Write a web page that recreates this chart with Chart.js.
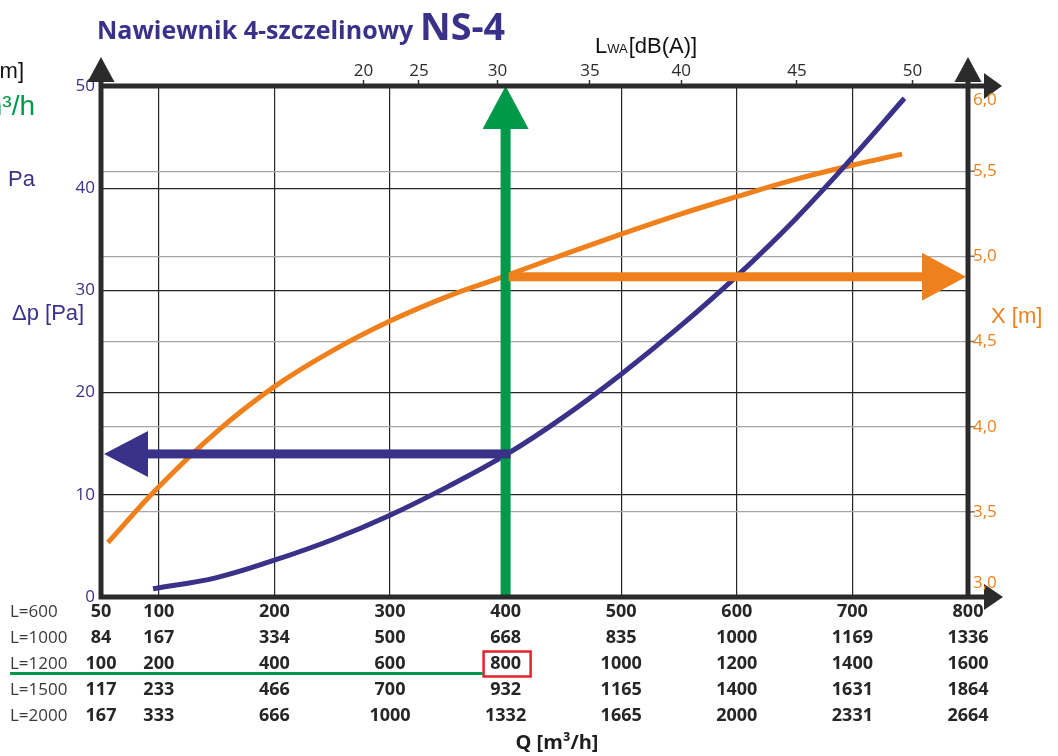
<!DOCTYPE html>
<html><head><meta charset="utf-8">
<script src="https://cdn.jsdelivr.net/npm/chart.js@4.4.0/dist/chart.umd.min.js"></script>
<style>html,body{margin:0;padding:0;background:#fff;}canvas{display:block;}</style>
</head><body>
<canvas id="c" width="1058" height="756"></canvas>
<script>
// ---- data ----
const qTicks = [50, 100, 200, 300, 400, 500, 600, 700, 800];
const rowLabels = ['L=600', 'L=1000', 'L=1200', 'L=1500', 'L=2000'];
const rowL600 = [50, 100, 200, 300, 400, 500, 600, 700, 800];
const rowL1000 = [84, 167, 334, 500, 668, 835, 1000, 1169, 1336];
const rowL1200 = [100, 200, 400, 600, 800, 1000, 1200, 1400, 1600];
const rowL1500 = [117, 233, 466, 700, 932, 1165, 1400, 1631, 1864];
const rowL2000 = [167, 333, 666, 1000, 1332, 1665, 2000, 2331, 2664];
const tableRows = [rowL600, rowL1000, rowL1200, rowL1500, rowL2000];
const dpTicks = [0, 10, 20, 30, 40, 50];
const throwTicks = [3.0, 3.5, 4.0, 4.5, 5.0, 5.5, 6.0];
const lwaLabels = [20, 25, 30, 35, 40, 45, 50];
const lwaQ = [277, 325, 393, 473, 552, 652, 752];
const dpQ = [95, 150, 200, 250, 300, 350, 400, 450, 500, 550, 600, 650, 700, 745];
const dpValues = [0.8, 1.9, 3.6, 5.6, 8.0, 10.8, 13.9, 17.6, 21.8, 26.4, 31.4, 36.9, 43.0, 48.8];
const throwQ = [56, 100, 150, 200, 250, 300, 350, 400, 450, 500, 550, 600, 650, 700, 743];
const throwValues = [3.32, 3.647, 3.97, 4.235, 4.445, 4.62, 4.765, 4.885, 5.01, 5.13, 5.245, 5.35, 5.45, 5.535, 5.60];
const exampleQ = 400, exampleDp = 14, exampleX = 4.88;
const highlightRow = 2, highlightCol = 4;

// ---- style ----
const NAVY = '#3a3189', ORANGE = '#ef801c', GREEN = '#00994a', DARK = '#2b2b2b';
const FONT = '"Open Sans", "DejaVu Sans", sans-serif';
const ARIAL = '"Liberation Sans", Arial, sans-serif';
const TABLE_FS = 18, TABLE_LH = 26 / 18, TABLE_PAD = 2;

function tri(ctx, x1, y1, x2, y2, x3, y3) {
  ctx.beginPath(); ctx.moveTo(x1, y1); ctx.lineTo(x2, y2); ctx.lineTo(x3, y3); ctx.closePath(); ctx.fill();
}

const deco = {
  id: 'deco',
  afterDatasetsDraw(chart) {
    const { ctx, chartArea: a, scales } = chart;
    const x = scales.x, y = scales.y, yx = scales.yX;
    const gx = x.getPixelForValue(exampleQ);
    ctx.save();
    // green vertical arrow
    const top = y.getPixelForValue(dpTicks[dpTicks.length - 1]), bot = y.getPixelForValue(dpTicks[0]);
    ctx.fillStyle = GREEN;
    ctx.fillRect(gx - 5, top + 40, 10, bot - top - 40);
    tri(ctx, gx, top, gx - 23, top + 43, gx + 23, top + 43);
    // blue arrow to the left
    const by = y.getPixelForValue(exampleDp);
    const lx = a.left + 3;
    ctx.fillStyle = NAVY;
    ctx.fillRect(lx + 40, by - 4.5, gx + 5 - (lx + 40), 9);
    tri(ctx, lx, by, lx + 44, by - 23, lx + 44, by + 23);
    // orange arrow to the right
    const oy = yx.getPixelForValue(exampleX);
    const rx = a.right - 2;
    ctx.fillStyle = ORANGE;
    ctx.fillRect(gx + 3, oy - 4.5, rx - 42 - (gx + 3), 9);
    tri(ctx, rx, oy, rx - 44, oy - 24, rx - 44, oy + 24);
    ctx.restore();
  },
  afterDraw(chart) {
    const { ctx, chartArea: a, scales } = chart;
    const x = scales.x, yx = scales.yX;
    ctx.save();
    // right-axis small tick marks
    ctx.strokeStyle = '#777'; ctx.lineWidth = 1.5;
    throwTicks.slice(1, -1).forEach(v => {
      const py = yx.getPixelForValue(v);
      ctx.beginPath(); ctx.moveTo(a.right + 2, py); ctx.lineTo(a.right + 7, py); ctx.stroke();
    });
    // frame
    ctx.strokeStyle = DARK; ctx.lineWidth = 5; ctx.lineCap = 'butt';
    ctx.beginPath();
    ctx.moveTo(a.left, a.top - 6); ctx.lineTo(a.left, a.bottom + 2.5);
    ctx.moveTo(a.right, a.top - 6); ctx.lineTo(a.right, a.bottom + 2.5);
    ctx.moveTo(a.left - 2.5, a.top); ctx.lineTo(a.right + 17, a.top);
    ctx.moveTo(a.left - 2.5, a.bottom); ctx.lineTo(a.right + 17, a.bottom);
    ctx.stroke();
    ctx.fillStyle = DARK;
    tri(ctx, a.left, a.top - 29, a.left - 13.5, a.top - 4, a.left + 13.5, a.top - 4);
    tri(ctx, a.right, a.top - 29, a.right - 13.5, a.top - 4, a.right + 13.5, a.top - 4);
    tri(ctx, a.right + 34, a.top, a.right + 16, a.top - 13, a.right + 16, a.top + 13);
    tri(ctx, a.right + 35, a.bottom, a.right + 16, a.bottom - 13, a.right + 16, a.bottom + 13);

    // right axis labels
    ctx.font = '17px ' + FONT; ctx.fillStyle = ORANGE; ctx.textAlign = 'left'; ctx.textBaseline = 'middle';
    throwTicks.forEach((v, i) => {
      let py = yx.getPixelForValue(v);
      if (i === throwTicks.length - 1) py += 14;
      if (i === 0) py -= 14;
      ctx.fillText(v.toFixed(1).replace('.', ','), a.right + 5, py);
    });

    // title
    ctx.textBaseline = 'alphabetic'; ctx.textAlign = 'left'; ctx.fillStyle = NAVY;
    ctx.font = 'bold 26px ' + FONT;
    const t1 = 'Nawiewnik 4-szczelinowy';
    const w1 = ctx.measureText(t1).width;
    const fs1 = 26 * 316 / w1;
    ctx.font = 'bold ' + fs1.toFixed(1) + 'px ' + FONT;
    ctx.fillText(t1, 97, 39);
    ctx.font = 'bold 36px ' + FONT;
    const w2 = ctx.measureText('NS-4').width;
    const fs2 = 36 * 85 / w2;
    ctx.font = 'bold ' + fs2.toFixed(1) + 'px ' + FONT;
    ctx.fillText('NS-4', 420, 40);

    // LWA label
    ctx.fillStyle = '#111';
    ctx.font = '22px ' + ARIAL;
    ctx.fillText('L', 595, 53);
    let cx = 595 + ctx.measureText('L').width;
    ctx.font = '13px ' + ARIAL;
    ctx.fillText('WA', cx, 53);
    cx += ctx.measureText('WA').width + 1;
    ctx.font = '22px ' + ARIAL;
    ctx.fillText('[dB(A)]', cx, 53);

    // side labels
    ctx.font = '22px ' + ARIAL;
    ctx.fillStyle = NAVY;
    ctx.fillText('\u0394p [Pa]', 12, 320);
    ctx.fillText('Pa', 8, 186);
    ctx.fillStyle = ORANGE;
    ctx.fillText('X [m]', 991, 323);
    ctx.fillStyle = '#111';
    ctx.textAlign = 'right';
    ctx.fillText('X [m]', 24, 78);
    ctx.fillStyle = GREEN;
    ctx.font = '28px ' + ARIAL;
    ctx.fillText('m\u00b3/h', 35, 115);

    // row labels
    const lh = TABLE_FS * TABLE_LH;
    const row0 = a.bottom + TABLE_PAD + lh / 2;
    ctx.textAlign = 'left'; ctx.textBaseline = 'middle';
    ctx.fillStyle = '#3a3a3a';
    ctx.font = '17px ' + FONT;
    rowLabels.forEach((t, i) => ctx.fillText(t, 10, row0 + i * lh));

    // highlight box and green line
    const hx = x.getPixelForValue(qTicks[highlightCol]) + 1.5;
    const hy = row0 + highlightRow * lh;
    ctx.strokeStyle = '#e3222b'; ctx.lineWidth = 2.5;
    ctx.strokeRect(hx - 23.5, hy - 12.5, 47, 25);
    ctx.strokeStyle = GREEN; ctx.lineWidth = 3;
    ctx.beginPath(); ctx.moveTo(10, hy + 9.5); ctx.lineTo(hx - 24.5, hy + 9.5); ctx.stroke();

    // Q axis title
    ctx.fillStyle = '#1e1e1e'; ctx.textAlign = 'center'; ctx.textBaseline = 'alphabetic';
    ctx.font = 'bold 20px ' + FONT;
    ctx.fillText('Q [m\u00b3/h]', 557, 749);
    ctx.restore();
  }
};

new Chart(document.getElementById('c'), {
  type: 'line',
  data: {
    datasets: [
      {
        label: '\u0394p [Pa]',
        data: dpQ.map((q, i) => ({ x: q, y: dpValues[i] })),
        xAxisID: 'x', yAxisID: 'y',
        borderColor: NAVY, borderWidth: 5, pointRadius: 0,
        tension: 0.4, fill: false
      },
      {
        label: 'X [m]',
        data: throwQ.map((q, i) => ({ x: q, y: throwValues[i] })),
        xAxisID: 'x', yAxisID: 'yX',
        borderColor: ORANGE, borderWidth: 5, pointRadius: 0,
        tension: 0.4, fill: false
      }
    ]
  },
  options: {
    responsive: false, devicePixelRatio: 1, animation: false,
    layout: { padding: 0 },
    plugins: { legend: { display: false }, tooltip: { enabled: false } },
    scales: {
      x: {
        type: 'linear', position: 'bottom', min: 50, max: 800,
        afterBuildTicks: s => { s.ticks = qTicks.map(v => ({ value: v })); },
        afterFit: s => { s.height = 159; },
        grid: { color: '#262626', lineWidth: 1.2, drawTicks: false },
        border: { display: false },
        ticks: {
          autoSkip: false, maxRotation: 0, padding: TABLE_PAD, color: '#262626',
          font: { family: FONT, size: TABLE_FS, weight: 'bold', lineHeight: TABLE_LH },
          callback: (v, i) => tableRows.map(r => String(r[i]))
        }
      },
      xTop: {
        type: 'linear', position: 'top', min: 50, max: 800,
        afterBuildTicks: s => { s.ticks = lwaQ.map(v => ({ value: v })); },
        afterFit: s => { s.height = 86; },
        grid: { drawOnChartArea: false, drawTicks: true, tickLength: 6, tickColor: '#333', tickWidth: 1.5 },
        border: { display: false },
        ticks: {
          autoSkip: false, maxRotation: 0, padding: 0, color: '#2b2b2b',
          font: { family: FONT, size: 17, lineHeight: 1 },
          callback: (v, i) => String(lwaLabels[i])
        }
      },
      y: {
        type: 'linear', position: 'left', min: 0, max: 50,
        afterBuildTicks: s => { s.ticks = dpTicks.map(v => ({ value: v })); },
        afterFit: s => { s.width = 101; },
        grid: { color: '#262626', lineWidth: 1.2, drawTicks: false },
        border: { display: false },
        ticks: { padding: 6, color: NAVY, font: { family: FONT, size: 17 } }
      },
      yX: {
        type: 'linear', position: 'right', min: 3, max: 6,
        afterBuildTicks: s => { s.ticks = throwTicks.map(v => ({ value: v })); },
        afterFit: s => { s.width = 90; },
        grid: { color: '#a6a6a6', lineWidth: 1.2, drawTicks: false },
        border: { display: false },
        ticks: { display: false }
      }
    }
  },
  plugins: [deco]
});
</script>
</body></html>
